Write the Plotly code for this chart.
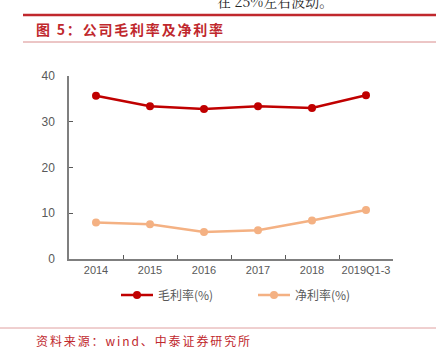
import plotly.graph_objects as go

years = ["2014", "2015", "2016", "2017", "2018", "2019Q1-3"]
gross_margin = [35.7, 33.4, 32.8, 33.4, 33.0, 35.8]
net_margin = [8.0, 7.6, 5.9, 6.3, 8.4, 10.7]
y_ticks = [0, 10, 20, 30, 40]

W, H = 438, 353
L, R, T, B = 69, 45, 76, 94
ph = H - T - B
pw = W - L - R

def py(pix):
    return (H - B - pix) / ph

def px(pix):
    return (pix - L) / pw

fig = go.Figure()
fig.add_trace(go.Scatter(x=years, y=gross_margin, mode="lines+markers", name="毛利率(%)",
                         line=dict(color="#c00000", width=2.5), marker=dict(size=8, color="#c00000")))
fig.add_trace(go.Scatter(x=years, y=net_margin, mode="lines+markers", name="净利率(%)",
                         line=dict(color="#f4b183", width=2.5), marker=dict(size=8, color="#f4b183")))

cjk = "Noto Sans CJK SC"
fig.update_layout(
    width=W, height=H, margin=dict(l=L, r=R, t=T, b=B),
    paper_bgcolor="white", plot_bgcolor="white",
    showlegend=True,
    legend=dict(orientation="h", x=px(253), xanchor="center", y=py(295), yanchor="middle",
                font=dict(family=cjk, size=12, color="#595959"), itemwidth=32,
                entrywidth=90, bgcolor="rgba(0,0,0,0)"),
    xaxis=dict(type="category", tickson="boundaries", ticks="inside", ticklen=4, tickcolor="#595959",
               showline=True, linecolor="#7f7f7f", linewidth=1.5, showgrid=False, tickangle=0,
               tickfont=dict(family="Liberation Sans", size=11, color="#595959"), range=[-0.5, 5.5]),
    yaxis=dict(range=[0, 40], tickvals=y_ticks, ticks="inside", ticklen=4, tickcolor="#595959",
               showline=True, linecolor="#7f7f7f", linewidth=1.5, showgrid=False, zeroline=False,
               tickfont=dict(family="Liberation Sans", size=12, color="#595959"), ticklabelstandoff=10),
)

fig.add_shape(type="line", xref="paper", yref="paper", x0=px(23), x1=px(436), y0=py(15), y1=py(15),
              line=dict(color="#c0282d", width=2.5))
fig.add_shape(type="line", xref="paper", yref="paper", x0=px(23), x1=px(436), y0=py(42), y1=py(42),
              line=dict(color="#d98c8c", width=1))
fig.add_shape(type="line", xref="paper", yref="paper", x0=px(0), x1=px(436), y0=py(328), y1=py(328),
              line=dict(color="#e0a0a0", width=1))

fig.add_annotation(text="在 25%左右波动。", xref="paper", yref="paper", x=px(215), y=py(1),
                   xanchor="left", yanchor="middle", showarrow=False,
                   font=dict(family="Noto Serif CJK SC, " + cjk, size=14, color="#222222"))
fig.add_annotation(text='<span style="letter-spacing:1.8px"><b>图 5：公司毛利率及净利率</b></span>',
                   xref="paper", yref="paper",
                   x=px(34), y=py(29), xanchor="left", yanchor="middle", showarrow=False,
                   font=dict(family=cjk, size=14, color="#c0282d"))
fig.add_annotation(text='<span style="letter-spacing:1.9px">资料来源：wind、中泰证券研究所</span>',
                   xref="paper", yref="paper",
                   x=px(34), y=py(340), xanchor="left", yanchor="middle", showarrow=False,
                   font=dict(family=cjk, size=12, color="#c0282d"))

fig.write_html("out.html")
